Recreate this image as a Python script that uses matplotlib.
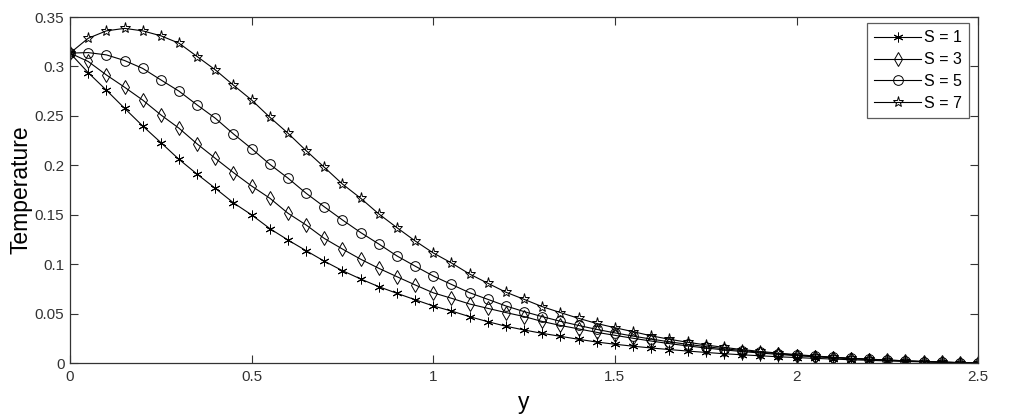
import numpy as np
import matplotlib
matplotlib.use("Agg")
import matplotlib.pyplot as plt

plt.rcParams["font.family"] = ["Liberation Sans", "DejaVu Sans"]

# y positions: 0 to 2.5 in steps of 0.05 (51 points)
y = np.linspace(0, 2.5, 51)

temp_s1 = [0.3135, 0.2937, 0.2760, 0.2577, 0.2398, 0.2230, 0.2060, 0.1910, 0.1767, 0.1620,
           0.1498, 0.1360, 0.1244, 0.1136, 0.1030, 0.0934, 0.0850, 0.0772, 0.0705, 0.0640,
           0.0577, 0.0526, 0.0469, 0.0418, 0.0372, 0.0334, 0.0300, 0.0270, 0.0240, 0.0212,
           0.0190, 0.0170, 0.0152, 0.0136, 0.0121, 0.0107, 0.0094, 0.0083, 0.0073, 0.0063,
           0.0055, 0.0047, 0.0040, 0.0033, 0.0027, 0.0021, 0.0016, 0.0011, 0.0007, 0.0003,
           0.0]
temp_s3 = [0.3135, 0.3050, 0.2914, 0.2790, 0.2660, 0.2510, 0.2375, 0.2216, 0.2070, 0.1926,
           0.1790, 0.1667, 0.1515, 0.1396, 0.1260, 0.1153, 0.1050, 0.0958, 0.0873, 0.0790,
           0.0710, 0.0655, 0.0597, 0.0553, 0.0510, 0.0470, 0.0420, 0.0380, 0.0345, 0.0310,
           0.0280, 0.0250, 0.0222, 0.0196, 0.0173, 0.0152, 0.0133, 0.0116, 0.0101, 0.0087,
           0.0074, 0.0063, 0.0053, 0.0044, 0.0035, 0.0027, 0.0020, 0.0014, 0.0008, 0.0004,
           0.0]
temp_s5 = [0.3135, 0.3140, 0.3117, 0.3060, 0.2980, 0.2864, 0.2750, 0.2610, 0.2476, 0.2317,
           0.2168, 0.2010, 0.1870, 0.1717, 0.1580, 0.1447, 0.1320, 0.1204, 0.1083, 0.0980,
           0.0880, 0.0795, 0.0711, 0.0644, 0.0577, 0.0520, 0.0469, 0.0422, 0.0380, 0.0340,
           0.0305, 0.0272, 0.0242, 0.0214, 0.0189, 0.0166, 0.0145, 0.0126, 0.0109, 0.0094,
           0.0080, 0.0068, 0.0057, 0.0047, 0.0038, 0.0030, 0.0022, 0.0015, 0.0009, 0.0004,
           0.0]
temp_s7 = [0.3135, 0.3285, 0.3360, 0.3385, 0.3360, 0.3310, 0.3235, 0.3100, 0.2965, 0.2810,
           0.2660, 0.2486, 0.2324, 0.2148, 0.1980, 0.1810, 0.1667, 0.1508, 0.1369, 0.1235,
           0.1113, 0.1012, 0.0900, 0.0807, 0.0716, 0.0644, 0.0570, 0.0510, 0.0452, 0.0400,
           0.0357, 0.0317, 0.0275, 0.0240, 0.0210, 0.0183, 0.0158, 0.0136, 0.0117, 0.0100,
           0.0085, 0.0071, 0.0059, 0.0048, 0.0039, 0.0030, 0.0022, 0.0015, 0.0009, 0.0004,
           0.0]

labels = ["S = 1", "S = 3", "S = 5", "S = 7"]
series = [temp_s1, temp_s3, temp_s5, temp_s7]
markers = [(6, 2, 0), "d", "o", "*"]
msizes = [7, 7, 7, 8]

fig = plt.figure(figsize=(10.21, 4.16), dpi=100)
ax = fig.add_axes([0.0686, 0.1274, 0.8894, 0.8317])

for vals, lab, mk, ms in zip(series, labels, markers, msizes):
    ax.plot(y, vals, color="black", lw=0.8, marker=mk, ms=ms,
            mfc="none", mec="black", mew=0.7, label=lab)

ax.set_xlim(0, 2.5)
ax.set_ylim(0, 0.35)
ax.set_xticks([0, 0.5, 1, 1.5, 2, 2.5])
ax.set_xticklabels(["0", "0.5", "1", "1.5", "2", "2.5"])
ax.set_yticks([0, 0.05, 0.1, 0.15, 0.2, 0.25, 0.3, 0.35])
ax.set_yticklabels(["0", "0.05", "0.1", "0.15", "0.2", "0.25", "0.3", "0.35"])
ax.tick_params(direction="in", top=True, right=True, length=6, width=0.8,
               colors="#333333", labelsize=11, labelcolor="#333333")
ax.tick_params(axis="x", pad=5)
ax.tick_params(axis="y", pad=4)
for sp in ax.spines.values():
    sp.set_color("#333333")
    sp.set_linewidth(0.9)

ax.set_xlabel("y", fontsize=16.5, labelpad=5)
ax.set_ylabel("Temperature", fontsize=16.5, labelpad=2)

leg = ax.legend(loc="upper right", bbox_to_anchor=(0.990, 0.982), borderaxespad=0,
                fontsize=11.5, frameon=True, fancybox=False, edgecolor="#333333",
                handlelength=2.9, handletextpad=0.2, labelspacing=0.42, borderpad=0.45)
leg.get_frame().set_linewidth(0.9)

fig.savefig("out.png", dpi=100)
